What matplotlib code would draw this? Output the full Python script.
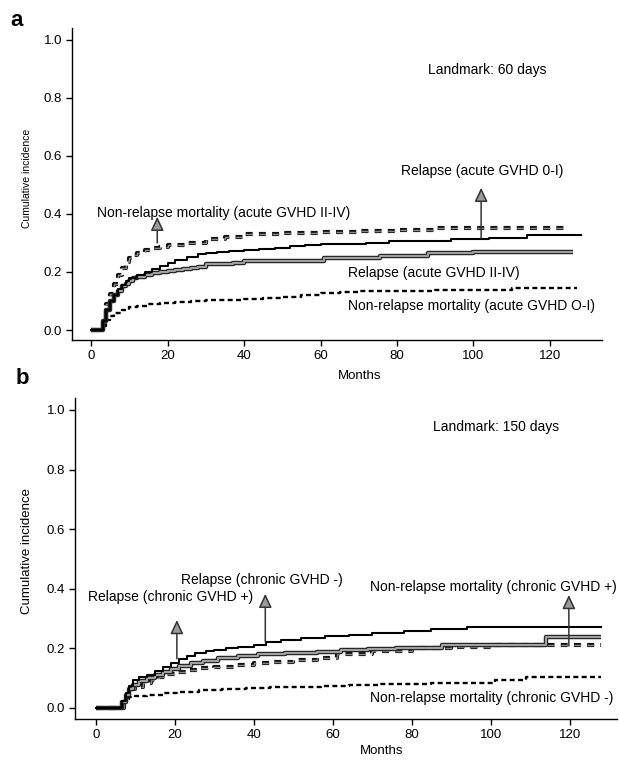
import matplotlib
matplotlib.use("Agg")
import matplotlib.pyplot as plt

plt.rcParams['font.family'] = ['Liberation Sans', 'DejaVu Sans']
plt.rcParams['lines.scale_dashes'] = False

# ---- panel a: landmark 60 days ----
a_rel_low_m = [0, 2, 3, 4, 5, 6, 7, 8, 9, 10, 12, 14, 16, 18, 20, 22, 25, 28, 30, 33, 36, 40,
               44, 48, 52, 56, 60, 66, 72, 78, 86, 94, 104, 114, 128]
a_rel_low_v = [0, 0, 0.03, 0.07, 0.10, 0.12, 0.14, 0.155, 0.168, 0.178, 0.19, 0.20, 0.21, 0.22,
               0.23, 0.24, 0.252, 0.262, 0.267, 0.27, 0.273, 0.276, 0.28, 0.284, 0.288, 0.292,
               0.296, 0.298, 0.30, 0.305, 0.308, 0.313, 0.317, 0.328, 0.328]

a_rel_high_m = [0, 2, 3, 4, 5, 6, 7, 8, 9, 10, 11, 12, 14, 16, 18, 20, 22, 24, 26, 28, 30, 34,
                37, 40, 45, 50, 55, 61, 66, 70, 75.5, 80, 88, 100, 126]
a_rel_high_v = [0, 0, 0.03, 0.07, 0.10, 0.12, 0.135, 0.15, 0.16, 0.17, 0.178, 0.182, 0.19,
                0.196, 0.201, 0.205, 0.208, 0.21, 0.213, 0.216, 0.226, 0.228, 0.23, 0.237,
                0.238, 0.238, 0.239, 0.247, 0.248, 0.249, 0.255, 0.256, 0.266, 0.268, 0.268]

a_nrm_high_m = [0, 2, 3, 4, 5, 6, 7, 8, 9, 10, 11, 12, 14, 16, 18, 20, 25, 30, 35, 40, 50, 60,
                70, 80, 90, 124]
a_nrm_high_v = [0, 0, 0.03, 0.09, 0.125, 0.16, 0.19, 0.215, 0.236, 0.248, 0.259, 0.266, 0.276,
                0.282, 0.287, 0.292, 0.301, 0.312, 0.322, 0.33, 0.334, 0.337, 0.341, 0.345,
                0.35, 0.35]

a_nrm_low_m = [0, 2, 3, 4, 5, 6, 8, 10, 12, 15, 18, 22, 26, 30, 35, 40, 45, 50, 55, 60, 65, 70,
               80, 90, 100, 110, 127]
a_nrm_low_v = [0, 0, 0.015, 0.035, 0.048, 0.058, 0.07, 0.078, 0.084, 0.089, 0.093, 0.097, 0.1,
               0.102, 0.105, 0.107, 0.11, 0.114, 0.12, 0.127, 0.132, 0.134, 0.136, 0.138,
               0.138, 0.145, 0.145]

# ---- panel b: landmark 150 days ----
b_rel_neg_m = [0, 5.5, 6.5, 7.5, 8.5, 9.5, 11, 13, 15, 17, 19, 21, 23, 25, 28, 30, 33, 36, 40,
               43, 47, 52, 58, 64, 70, 78, 85, 94, 128]
b_rel_neg_v = [0, 0, 0.025, 0.05, 0.075, 0.094, 0.103, 0.112, 0.125, 0.138, 0.15, 0.163,
               0.175, 0.184, 0.192, 0.196, 0.201, 0.206, 0.212, 0.222, 0.228, 0.234, 0.24,
               0.245, 0.25, 0.259, 0.264, 0.273, 0.273]

b_rel_pos_m = [0, 5.5, 6.5, 7.5, 8.5, 9.5, 11, 13, 15, 17, 19, 21, 24, 27, 31, 36, 41, 48, 56,
               62, 69, 76, 82, 87.7, 100, 114, 128]
b_rel_pos_v = [0, 0, 0.02, 0.045, 0.065, 0.077, 0.09, 0.1, 0.11, 0.12, 0.13, 0.14, 0.15,
               0.158, 0.166, 0.175, 0.182, 0.186, 0.189, 0.193, 0.197, 0.2, 0.202, 0.211,
               0.211, 0.237, 0.237]

b_nrm_pos_m = [0, 5.5, 7, 8, 9, 10, 12, 14, 16, 18, 20, 23, 26, 30, 35, 40, 45, 50, 56, 61,
               70, 80, 90, 100, 128]
b_nrm_pos_v = [0, 0, 0.038, 0.05, 0.062, 0.07, 0.083, 0.095, 0.105, 0.113, 0.12, 0.128, 0.133,
               0.138, 0.145, 0.15, 0.155, 0.16, 0.167, 0.18, 0.19, 0.2, 0.205, 0.211, 0.211]

b_nrm_neg_m = [0, 5.5, 6.5, 7.5, 8.5, 10, 13, 17, 21, 26, 32, 38, 44, 50, 57, 64, 72, 85, 101,
               109, 128]
b_nrm_neg_v = [0, 0, 0.018, 0.03, 0.038, 0.041, 0.045, 0.05, 0.055, 0.059, 0.063, 0.066,
               0.069, 0.072, 0.075, 0.077, 0.079, 0.083, 0.094, 0.105, 0.105]

yticks = [0.0, 0.2, 0.4, 0.6, 0.8, 1.0]
xticks = [0, 20, 40, 60, 80, 100, 120]


def solid(ax, m, v):
    ax.plot(m, v, drawstyle='steps-post', color='black', lw=1.5)


def grey(ax, m, v):
    ax.plot(m, v, drawstyle='steps-post', color='#222222', lw=3.2, solid_capstyle='butt')
    ax.plot(m, v, drawstyle='steps-post', color='#a0a0a0', lw=1.5, solid_capstyle='butt')


def heavy_dash(ax, m, v):
    ax.plot(m, v, drawstyle='steps-post', color='#111111', lw=3.0, dashes=(5, 4.5))
    ax.plot(m, v, drawstyle='steps-post', color='#8a8a8a', lw=1.0, dashes=(5, 4.5))


def thin_dash(ax, m, v):
    ax.plot(m, v, drawstyle='steps-post', color='black', lw=1.7, dashes=(3.6, 2.4))


def arrow(ax, x, y0, y1):
    ax.annotate('', xy=(x, y1), xytext=(x, y0),
                arrowprops=dict(arrowstyle='-|>,head_length=0.7,head_width=0.33',
                                fc='#9a9a9a', ec='#333333', lw=1.1, mutation_scale=12,
                                shrinkA=0, shrinkB=0))


def style(ax, xlim, ylim):
    ax.set_xlim(*xlim)
    ax.set_ylim(*ylim)
    for s in ['top', 'right']:
        ax.spines[s].set_visible(False)
    for s in ['left', 'bottom']:
        ax.spines[s].set_linewidth(1.0)
    ax.set_yticks(yticks)
    ax.set_yticklabels(['%.1f' % t for t in yticks])
    ax.set_xticks(xticks)
    ax.tick_params(direction='out', length=4.5, width=1, labelsize=9.5, pad=2.5)


fig = plt.figure(figsize=(6.19, 7.61), dpi=100)

# panel a
ax1 = fig.add_axes([0.1163, 0.553, 0.8562, 0.41])
heavy_dash(ax1, a_nrm_high_m, a_nrm_high_v)
thin_dash(ax1, a_nrm_low_m, a_nrm_low_v)
grey(ax1, a_rel_high_m, a_rel_high_v)
solid(ax1, a_rel_low_m, a_rel_low_v)
style(ax1, (-5, 133.6), (-0.035, 1.04))
ax1.text(103.5, 0.897, 'Landmark: 60 days', fontsize=10, ha='center', va='center')
ax1.text(1.6, 0.403, 'Non-relapse mortality (acute GVHD II-IV)', fontsize=10, va='center')
arrow(ax1, 17.3, 0.30, 0.39)
ax1.text(102.2, 0.548, 'Relapse (acute GVHD 0-I)', fontsize=10, ha='center', va='center')
arrow(ax1, 102, 0.317, 0.49)
ax1.text(67.2, 0.197, 'Relapse (acute GVHD II-IV)', fontsize=10, va='center')
ax1.text(67.2, 0.083, 'Non-relapse mortality (acute GVHD O-I)', fontsize=10, va='center')
fig.text(27 / 619, 1 - 178 / 761, 'Cumulative incidence', rotation=90, fontsize=7.5,
         ha='center', va='center')
fig.text(360 / 619, 1 - 376 / 761, 'Months', fontsize=9.5, ha='center', va='center')
fig.text(17 / 619, 1 - 20 / 761, 'a', fontsize=16, fontweight='bold', ha='center', va='center')

# panel b
ax2 = fig.add_axes([0.1212, 0.0552, 0.8756, 0.4218])
heavy_dash(ax2, b_nrm_pos_m, b_nrm_pos_v)
thin_dash(ax2, b_nrm_neg_m, b_nrm_neg_v)
grey(ax2, b_rel_pos_m, b_rel_pos_v)
solid(ax2, b_rel_neg_m, b_rel_neg_v)
style(ax2, (-5.3, 132), (-0.037, 1.04))
ax2.text(101.3, 0.944, 'Landmark: 150 days', fontsize=10, ha='center', va='center')
ax2.text(21.6, 0.43, 'Relapse (chronic GVHD -)', fontsize=10, va='center')
arrow(ax2, 42.9, 0.222, 0.383)
ax2.text(-2, 0.372, 'Relapse (chronic GVHD +)', fontsize=10, va='center')
arrow(ax2, 20.5, 0.165, 0.295)
ax2.text(69.5, 0.407, 'Non-relapse mortality (chronic GVHD +)', fontsize=10, va='center')
arrow(ax2, 119.8, 0.208, 0.379)
ax2.text(69.5, 0.034, 'Non-relapse mortality (chronic GVHD -)', fontsize=10, va='center')
fig.text(27 / 619, 1 - 551 / 761, 'Cumulative incidence', rotation=90, fontsize=9.5,
         ha='center', va='center')
fig.text(382 / 619, 1 - 751 / 761, 'Months', fontsize=9.5, ha='center', va='center')
fig.text(22 / 619, 1 - 379 / 761, 'b', fontsize=16, fontweight='bold', ha='center', va='center')

fig.savefig('out.png', dpi=100)
